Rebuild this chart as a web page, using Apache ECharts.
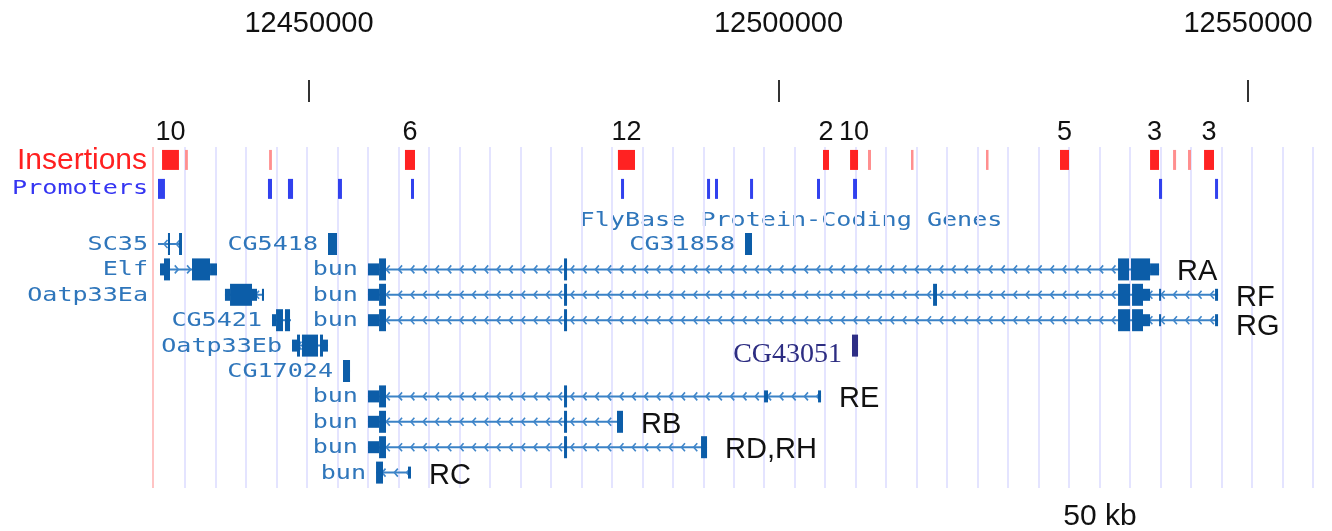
<!DOCTYPE html>
<html>
<head>
<meta charset="utf-8">
<script src="https://cdn.jsdelivr.net/npm/echarts@6/dist/echarts.min.js"></script>
<style>
html,body{margin:0;padding:0;background:#fff;}
#chart{width:1332px;height:531px;}
</style>
</head>
<body>
<div id="chart"></div>
<script>
// ---------------- DATA ----------------
// Axis tick labels (genomic coordinate, bp)
const tickValues = [12450000, 12500000, 12550000];

// Insertion clusters: [start, end, count]
const insertions = [
  [12434350, 12436150, 10],
  [12436800, 12437100, 1],
  [12445750, 12446050, 1],
  [12460220, 12461290, 6],
  [12482900, 12484720, 12],
  [12504740, 12505380, 2],
  [12507620, 12508470, 10],
  [12509530, 12509850, 1],
  [12514110, 12514330, 1],
  [12522100, 12522310, 1],
  [12529980, 12530940, 5],
  [12539570, 12540520, 3],
  [12542020, 12542340, 1],
  [12543610, 12543930, 1],
  [12545320, 12546380, 3]
];

// Promoters: [start, end]
const promoters = [
  [12433920, 12434660],
  [12445630, 12446060],
  [12447760, 12448300],
  [12453090, 12453510],
  [12460860, 12461180],
  [12483230, 12483550],
  [12492390, 12492710],
  [12493240, 12493560],
  [12496970, 12497290],
  [12504100, 12504420],
  [12507940, 12508360],
  [12540520, 12540850],
  [12546490, 12546810]
];

// Gene models
const geneNames = ['SC35', 'CG5418', 'CG31858', 'Elf', 'bun', 'Oatp33Ea', 'bun', 'CG5421', 'bun',
  'Oatp33Eb', 'CG43051', 'CG17024', 'bun', 'bun', 'bun', 'bun'];
const transcriptTags = ['', '', '', '', 'RA', '', 'RF', '', 'RG', '', '', '', 'RE', 'RB', 'RD,RH', 'RC'];
const geneRows = [1, 1, 1, 2, 2, 3, 3, 4, 4, 5, 5, 6, 7, 8, 9, 10];
const geneStrands = ['-', '-', '-', '+', '-', '-', '-', '-', '-', '-', '-', '-', '-', '-', '-', '-'];
const geneSpans = [
  [12433920, 12436475],
  [12452024, 12452982],
  [12496430, 12497180],
  [12434130, 12440200],
  [12456280, 12540530],
  [12441050, 12445210],
  [12456280, 12546810],
  [12446060, 12448080],
  [12456280, 12546810],
  [12448190, 12452020],
  [12507830, 12508470],
  [12453620, 12454370],
  [12456280, 12504530],
  [12456280, 12483440],
  [12456280, 12492390],
  [12457140, 12460860]
];
// exons: [start, end, kind]  kind: 'c' = coding, 'u' = UTR
const geneExons = [
  [[12434980, 12435200, 'c'], [12436160, 12436475, 'c']],
  [[12452024, 12452982, 'c']],
  [[12496430, 12497180, 'c']],
  [[12434130, 12434560, 'u'], [12434560, 12435200, 'c'], [12437540, 12439460, 'c'], [12439460, 12440200, 'u']],
  [[12456280, 12457460, 'u'], [12457460, 12458200, 'c'], [12477160, 12477480, 'c'],
   [12536160, 12537330, 'c'], [12537540, 12539570, 'c'], [12539570, 12540530, 'u']],
  [[12441050, 12441590, 'u'], [12441590, 12443930, 'c'], [12443930, 12444460, 'u'], [12444990, 12445210, 'u']],
  [[12456280, 12457460, 'u'], [12457460, 12458200, 'c'], [12477160, 12477480, 'c'], [12516460, 12516880, 'c'],
   [12536160, 12537440, 'c'], [12537650, 12538820, 'c'], [12538820, 12539570, 'u'], [12540530, 12540740, 'u'],
   [12546490, 12546810, 'u']],
  [[12446060, 12446490, 'u'], [12446490, 12447230, 'c'], [12447440, 12447980, 'c']],
  [[12456280, 12457460, 'u'], [12457460, 12458200, 'c'], [12477160, 12477480, 'c'],
   [12536160, 12537440, 'c'], [12537650, 12538820, 'c'], [12538820, 12539570, 'u'], [12540530, 12540740, 'u'],
   [12546490, 12546810, 'u']],
  [[12448190, 12448720, 'u'], [12448720, 12449040, 'c'], [12449250, 12450960, 'c'], [12451170, 12451490, 'c'], [12451490, 12452020, 'u']],
  [[12507830, 12508470, 'c']],
  [[12453620, 12454370, 'c']],
  [[12456280, 12457460, 'u'], [12457460, 12458200, 'c'], [12477160, 12477480, 'c'], [12498460, 12498880, 'u'], [12504210, 12504530, 'u']],
  [[12456280, 12457460, 'u'], [12457460, 12458200, 'c'], [12477160, 12477480, 'c'], [12482800, 12483440, 'c']],
  [[12456280, 12457460, 'u'], [12457460, 12458200, 'c'], [12477160, 12477480, 'c'], [12491750, 12492390, 'c']],
  [[12457140, 12457880, 'c'], [12460540, 12460860, 'u']]
];

// ---------------- LAYOUT / STYLE ----------------
const INSERT_ROW = -2.31;
const PROMO_ROW = -1.17;
const TRACK_LEFT_PX = 152;
const EXON_COLOR = '#0c5da8';
const LINE_COLOR = '#3b82c6';
const CHEV_COLOR = '#3f86ca';
const LABEL_COLOR = '#2f76bb';
const PIXEL_FONT = '19px "DejaVu Sans Mono"';
const PIXEL_SCALE = 1.32;

const chart = echarts.init(document.getElementById('chart'), null, {renderer: 'canvas'});

function renderGene(params, api) {
  const i = params.dataIndex;
  const row = geneRows[i];
  const p0 = api.coord([geneSpans[i][0], row]);
  const p1 = api.coord([geneSpans[i][1], row]);
  const y = p0[1];
  const ch = [];
  const isSpecial = geneNames[i] === 'CG43051';
  const exColor = isSpecial ? '#2e2e86' : EXON_COLOR;
  ch.push({type: 'rect', shape: {x: p0[0], y: y - 1, width: Math.max(p1[0] - p0[0], 1), height: 2}, style: {fill: LINE_COLOR}});
  if (p1[0] - p0[0] > 14) {
    for (let x = p0[0] + 6; x < p1[0] - 4; x += 12.3) {
      const d = geneStrands[i] === '-' ? 3.5 : -3.5;
      ch.push({type: 'polyline', shape: {points: [[x + d, y - 4], [x, y], [x + d, y + 4]]},
        style: {stroke: CHEV_COLOR, lineWidth: 1.6, fill: null}});
    }
  }
  geneExons[i].forEach(function (ex) {
    const a = api.coord([ex[0], row])[0];
    const b = api.coord([ex[1], row])[0];
    const h = ex[2] === 'c' ? 22 : 12;
    ch.push({type: 'rect', shape: {x: a, y: y - h / 2, width: Math.max(b - a, 2), height: h}, style: {fill: exColor}});
  });
  // name label
  const name = geneNames[i];
  if (isSpecial) {
    ch.push({type: 'text', x: p0[0] - 10, y: y + 9,
      style: {text: name, align: 'right', verticalAlign: 'middle', font: '28px "Liberation Serif"', fill: '#2d2d82'}});
  } else {
    let right = p0[0] - 10;
    if (right - name.length * 15 < TRACK_LEFT_PX) right = 148;
    ch.push({type: 'text', x: right, y: y + 1, scaleX: PIXEL_SCALE,
      style: {text: name, align: 'right', verticalAlign: 'middle', font: PIXEL_FONT, fill: LABEL_COLOR}});
  }
  if (transcriptTags[i]) {
    const dy = transcriptTags[i] === 'RG' ? 7 : 3;
    ch.push({type: 'text', x: p1[0] + 18, y: y + dy,
      style: {text: transcriptTags[i], align: 'left', verticalAlign: 'middle', font: '29px "Liberation Sans"', fill: '#111'}});
  }
  return {type: 'group', children: ch};
}

function renderInsertion(params, api) {
  const i = params.dataIndex;
  const d = insertions[i];
  const a = api.coord([d[0], INSERT_ROW]);
  const b = api.coord([d[1], INSERT_ROW]);
  const y = a[1];
  const ch = [];
  const w = Math.max(b[0] - a[0], 2.5);
  ch.push({type: 'rect', shape: {x: a[0], y: y - 10, width: w, height: 20},
    style: {fill: d[2] > 1 ? '#ff2222' : '#ff8f8f'}});
  if (d[2] > 1) {
    ch.push({type: 'text', x: a[0] + w / 2, y: y - 27,
      style: {text: String(d[2]), align: 'center', verticalAlign: 'middle', font: '27px "Liberation Sans"', fill: '#111'}});
  }
  return {type: 'group', children: ch};
}

function renderPromoter(params, api) {
  const d = promoters[params.dataIndex];
  const a = api.coord([d[0], PROMO_ROW]);
  const b = api.coord([d[1], PROMO_ROW]);
  return {type: 'rect', shape: {x: a[0], y: a[1] - 10, width: Math.max(b[0] - a[0], 3), height: 20},
    style: {fill: '#3141ee'}};
}

const option = {
  animation: false,
  backgroundColor: '#ffffff',
  grid: [
    {left: -160.5, width: 1878, top: 102, height: 429, outerBoundsMode: 'none', containLabel: false},
    {left: 185, width: 1128, top: 147, height: 341, outerBoundsMode: 'none', containLabel: false}
  ],
  xAxis: [
    {
      gridIndex: 0, type: 'value', position: 'top',
      min: 12400000, max: 12600000, interval: 50000,
      axisLine: {show: false, onZero: false},
      axisTick: {show: true, inside: false, length: 22, lineStyle: {color: '#333', width: 2}},
      axisLabel: {
        show: true, margin: 78, verticalAlign: 'middle',
        fontFamily: 'Liberation Sans', fontSize: 29, color: '#111',
        formatter: function (v) { return tickValues.indexOf(v) >= 0 ? String(v) : ''; }
      },
      splitLine: {show: false}
    },
    {
      gridIndex: 1, type: 'value', min: 0, max: 37, interval: 1,
      axisLine: {show: false, onZero: false}, axisTick: {show: false}, axisLabel: {show: false},
      splitLine: {show: true, lineStyle: {color: '#e4e4ff', width: 2}}
    }
  ],
  yAxis: [
    {gridIndex: 0, type: 'value', inverse: true, min: -4.5906, max: 12.2992, show: false},
    {gridIndex: 1, type: 'value', min: 0, max: 1, show: false}
  ],
  graphic: [
    {type: 'line', shape: {x1: 153, y1: 147, x2: 153, y2: 488}, style: {stroke: '#ffc4c4', lineWidth: 2}, z: 0},
    {type: 'text', x: 147, y: 161, style: {text: 'Insertions', align: 'right', verticalAlign: 'middle', font: '30px "Liberation Sans"', fill: '#ff2020'}},
    {type: 'text', x: 148, y: 189, scaleX: PIXEL_SCALE, style: {text: 'Promoters', align: 'right', verticalAlign: 'middle', font: PIXEL_FONT, fill: '#3535f2'}},
    {type: 'text', x: 791, y: 221, scaleX: PIXEL_SCALE, style: {text: 'FlyBase Protein-Coding Genes', align: 'center', verticalAlign: 'middle', font: PIXEL_FONT, fill: LABEL_COLOR}},
    {type: 'text', x: 1100, y: 517, style: {text: '50 kb', align: 'center', verticalAlign: 'middle', font: '30px "Liberation Sans"', fill: '#111'}}
  ],
  series: [
    {
      type: 'scatter', xAxisIndex: 1, yAxisIndex: 1, data: [], silent: true
    },
    {
      type: 'custom', xAxisIndex: 0, yAxisIndex: 0, silent: true,
      renderItem: renderInsertion,
      data: insertions.map(function (d) { return [d[0], INSERT_ROW, d[1]]; }),
      encode: {x: 0, y: 1}
    },
    {
      type: 'custom', xAxisIndex: 0, yAxisIndex: 0, silent: true,
      renderItem: renderPromoter,
      data: promoters.map(function (d) { return [d[0], PROMO_ROW, d[1]]; }),
      encode: {x: 0, y: 1}
    },
    {
      type: 'custom', xAxisIndex: 0, yAxisIndex: 0, silent: true,
      renderItem: renderGene,
      data: geneSpans.map(function (s, i) { return [s[0], geneRows[i], s[1]]; }),
      encode: {x: 0, y: 1}
    }
  ]
};
chart.setOption(option);
</script>
</body>
</html>
